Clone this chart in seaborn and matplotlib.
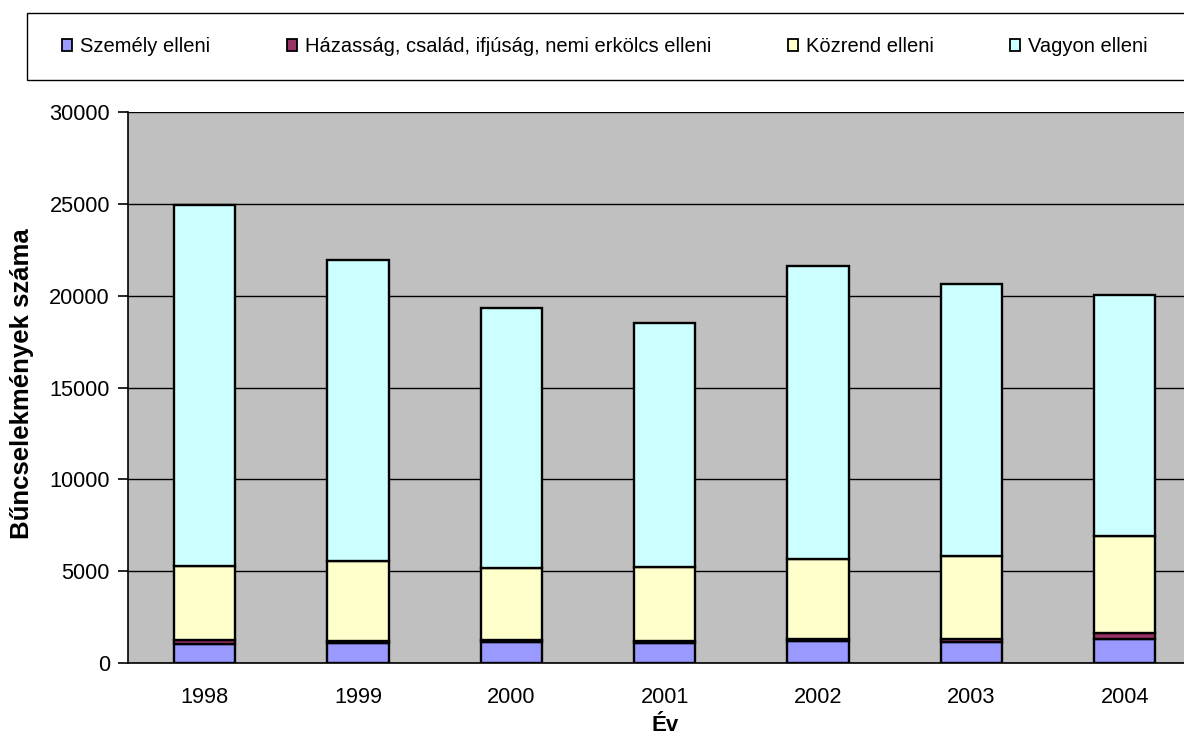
import matplotlib
matplotlib.use("Agg")
import matplotlib.pyplot as plt
import numpy as np
import pandas as pd
import seaborn as sns
from matplotlib.patches import Rectangle

# Yearly counts of recorded offences by category
years = ["1998", "1999", "2000", "2001", "2002", "2003", "2004"]
szemely = [1060, 1080, 1120, 1090, 1210, 1150, 1310]
hazassag = [180, 110, 110, 110, 120, 170, 350]
kozrend = [4040, 4360, 3940, 4030, 4330, 4510, 5255]
vagyon = [19650, 16390, 14170, 13280, 15970, 14800, 13100]

series_names = [
    "Személy elleni",
    "Házasság, család, ifjúság, nemi erkölcs elleni",
    "Közrend elleni",
    "Vagyon elleni",
]
series_values = [szemely, hazassag, kozrend, vagyon]
series_colors = ["#9999FF", "#993366", "#FFFFCC", "#CCFFFF"]

df = pd.DataFrame({"Év": years})
for name, vals in zip(series_names, series_values):
    df[name] = vals

sns.set_style("white")
plt.rcParams["font.family"] = ["Liberation Sans", "DejaVu Sans"]
plt.rcParams.update({
    "text.color": "black",
    "axes.labelcolor": "black",
    "xtick.color": "black",
    "ytick.color": "black",
})

W, H = 1184, 742
fig = plt.figure(figsize=(W / 100, H / 100), dpi=100)

# plot area: left edge at 128 px, zero line at 663 px, top at 112 px;
# the right edge of the plot area runs past the figure border
left, right, top, bottom = 128, 1201.5, 112, 663
ax = fig.add_axes([left / W, 1 - bottom / H, (right - left) / W, (bottom - top) / H])
ax.set_facecolor("#C0C0C0")

base = np.zeros(len(years))
handles = []
for name, color in zip(series_names, series_colors):
    sns.barplot(data=df, x="Év", y=name, bottom=base.copy(), color=color,
                width=0.4, edgecolor="black", linewidth=1.7, saturation=1,
                ax=ax, zorder=3)
    handles.append(Rectangle((0, 0), 1, 1, facecolor=color, edgecolor="black", linewidth=1.3))
    base = base + df[name].to_numpy()

ax.set_xlim(-0.5, len(years) - 0.5)
ax.set_ylim(0, 30000)
ax.set_yticks(np.arange(0, 30001, 5000))
ax.yaxis.grid(True, color="black", linewidth=1.0, zorder=0)
ax.set_axisbelow(True)

# category labels centred, tick marks on the category boundaries
ax.set_xticks(range(len(years)))
ax.set_xticklabels(years)
ax.set_xticks(np.arange(-0.5, len(years)), minor=True)
ax.tick_params(axis="x", which="major", length=0, pad=17, labelsize=15.7)
ax.tick_params(axis="x", which="minor", length=7, width=1.2, color="black", direction="out")
ax.tick_params(axis="y", length=7, width=1.2, color="black", direction="out",
               left=True, labelsize=15.7, pad=6)

for side in ["top", "right"]:
    ax.spines[side].set_visible(False)
for side in ["left", "bottom"]:
    ax.spines[side].set_color("black")
    ax.spines[side].set_linewidth(1.2)

ax.set_xlabel("Év", fontsize=16, fontweight="bold")
ax.xaxis.set_label_coords((665 - left) / (right - left), -(715 - bottom) / (bottom - top))
ax.set_ylabel("Bűncselekmények száma", fontsize=18.5, fontweight="bold")
ax.yaxis.set_label_coords(-(left - 34) / (right - left), 0.507)

# legend box across the top of the figure
frame = Rectangle((27 / W, 1 - 80 / H), 1.0, 67 / H, transform=fig.transFigure,
                  facecolor="white", edgecolor="black", linewidth=1.0, zorder=1)
fig.patches.append(frame)
leg = fig.legend(handles, series_names, loc="center left",
                 bbox_to_anchor=(62 / W, 1 - 47 / H), ncol=4, frameon=False,
                 fontsize=14.5, handlelength=0.5, handleheight=0.55,
                 handletextpad=0.4, columnspacing=3.8, borderaxespad=0,
                 borderpad=0)

fig.savefig("out.png", dpi=100)
